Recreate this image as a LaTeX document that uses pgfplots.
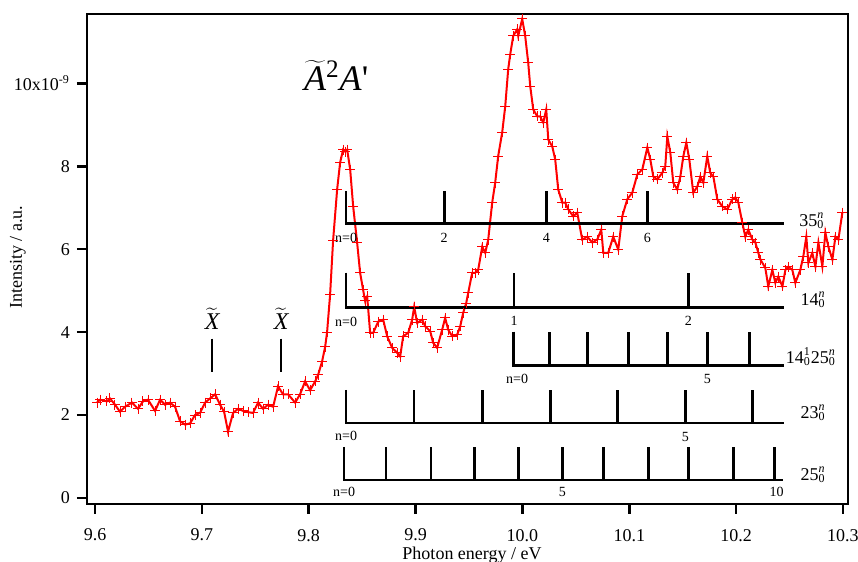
\documentclass[border=0pt]{standalone}
\usepackage{fontspec}
\setmainfont{Liberation Serif}
\usepackage{pgfplots}
\usepackage{pgfplotstable}
\pgfplotsset{compat=1.18}

% photoionisation spectrum, intensity in units of 1e-9
\pgfplotstableread{
x y
9.6019 2.30
9.6047 2.37
9.6112 2.33
9.6140 2.40
9.6187 2.25
9.6234 2.08
9.6281 2.20
9.6346 2.30
9.6403 2.15
9.6449 2.33
9.6496 2.37
9.6562 2.10
9.6609 2.37
9.6655 2.25
9.6702 2.30
9.6749 2.20
9.6796 1.85
9.6843 1.77
9.6890 1.80
9.6936 2.00
9.6983 2.05
9.7030 2.30
9.7077 2.40
9.7124 2.50
9.7170 2.25
9.7208 2.08
9.7245 1.60
9.7292 2.05
9.7339 2.15
9.7386 2.10
9.7433 2.07
9.7479 2.05
9.7526 2.30
9.7573 2.15
9.7620 2.25
9.7667 2.20
9.7713 2.69
9.7760 2.50
9.7807 2.50
9.7873 2.30
9.7919 2.50
9.7966 2.81
9.8013 2.60
9.8060 2.81
9.8088 2.97
9.8125 3.29
9.8154 3.65
9.8172 4.00
9.8200 4.90
9.8228 6.20
9.8266 7.44
9.8294 8.09
9.8322 8.40
9.8341 8.35
9.8360 8.40
9.8388 7.92
9.8416 7.03
9.8453 6.16
9.8481 5.43
9.8509 5.02
9.8528 4.75
9.8547 4.86
9.8575 3.98
9.8603 3.98
9.8650 4.25
9.8697 4.30
9.8734 3.90
9.8781 3.62
9.8828 3.50
9.8856 3.41
9.8884 3.90
9.8931 3.98
9.8968 4.30
9.8987 4.61
9.9015 4.22
9.9062 4.30
9.9090 4.14
9.9137 4.02
9.9165 3.74
9.9202 3.62
9.9249 4.06
9.9277 4.34
9.9305 4.06
9.9343 3.90
9.9390 3.94
9.9418 4.14
9.9446 4.47
9.9474 4.70
9.9493 4.95
9.9530 5.43
9.9558 5.43
9.9586 5.50
9.9624 6.06
9.9652 5.91
9.9680 6.23
9.9717 7.12
9.9745 7.60
9.9773 8.24
9.9811 8.82
9.9839 9.44
9.9867 10.34
9.9886 10.70
9.9914 11.14
9.9951 11.30
9.9961 11.14
9.9998 11.55
10.0026 11.14
10.0054 10.50
10.0073 9.93
10.0101 9.37
10.0139 9.20
10.0167 9.20
10.0195 9.05
10.0223 9.37
10.0242 8.64
10.0279 8.48
10.0307 8.16
10.0335 7.44
10.0373 7.12
10.0401 7.12
10.0429 6.96
10.0476 6.79
10.0513 6.88
10.0560 6.23
10.0607 6.30
10.0654 6.16
10.0700 6.23
10.0738 6.47
10.0757 5.91
10.0803 5.91
10.0850 6.30
10.0897 5.99
10.0934 6.79
10.0981 7.20
10.1028 7.36
10.1075 7.80
10.1122 7.92
10.1169 8.45
10.1197 8.16
10.1225 7.75
10.1262 7.68
10.1309 7.84
10.1337 8.00
10.1356 8.72
10.1384 8.33
10.1412 7.60
10.1449 7.44
10.1478 7.75
10.1506 8.24
10.1534 8.57
10.1562 8.16
10.1599 7.36
10.1637 7.51
10.1665 7.75
10.1693 7.60
10.1730 8.24
10.1758 7.84
10.1787 7.75
10.1824 7.20
10.1871 7.03
10.1918 6.96
10.1964 7.20
10.1993 7.25
10.2021 7.12
10.2058 6.64
10.2086 6.30
10.2114 6.47
10.2152 6.23
10.2180 6.16
10.2208 5.91
10.2227 5.75
10.2273 5.55
10.2301 5.10
10.2339 5.50
10.2367 5.19
10.2395 5.34
10.2433 5.10
10.2461 5.50
10.2489 5.58
10.2526 5.50
10.2554 5.19
10.2601 5.50
10.2629 5.83
10.2657 6.30
10.2676 5.67
10.2713 5.91
10.2742 5.58
10.2770 6.16
10.2807 5.58
10.2835 6.40
10.2863 6.06
10.2901 5.75
10.2929 6.30
10.2957 6.23
10.2994 6.88
}\spectrum

\begin{document}
\begin{tikzpicture}
\path[use as bounding box] (0,0) rectangle (429pt,281pt);
\begin{axis}[
  at={(43.5pt,29pt)}, anchor=south west,
  scale only axis, width=380.5pt, height=245pt,
  xmin=9.5925, xmax=10.3047, ymin=-0.145, ymax=11.67,
  clip=false,
  axis line style={line width=1.3pt},
  tick style={line width=1.3pt, black},
  tick align=outside, major tick length=5pt,
  xtick pos=left, ytick pos=left,
  xtick={9.6,9.7,9.8,9.9,10.0,10.1,10.2,10.3},
  xticklabels={9.6,9.7,9.8,9.9,10.0,10.1,10.2,10.3},
  ytick={0,2,4,6,8,10},
  yticklabels={0,2,4,6,8,{10x10\textsuperscript{-9}}},
  ticklabel style={font=\fontsize{9}{10}\selectfont},
  xticklabel style={yshift=-4pt},
  xlabel={Photon energy / eV},
  ylabel={Intensity / a.u.},
  label style={font=\fontsize{9}{10}\selectfont},
  xlabel style={at={(axis description cs:0.506,-0.104)}, anchor=center},
  ylabel style={at={(axis description cs:-0.0907,0.504)}, anchor=center},
  unbounded coords=jump,
]
\addplot[red, line width=1pt, mark=+, mark size=2.5pt,
  mark options={line width=0.5pt}] table[x=x, y=y] {\spectrum};

% vibrational progressions (combs)
\addplot[black, line width=1.3pt] coordinates {
  (9.8350,7.391) (9.8350,6.618) (10.2451,6.618) (9.9268,nan)
  (9.9268,6.618) (9.9268,7.391) (10.0223,nan)
  (10.0223,6.618) (10.0223,7.391) (10.1169,nan)
  (10.1169,6.618) (10.1169,7.391)};
\addplot[black, line width=1.3pt] coordinates {
  (9.8350,5.435) (9.8350,4.589) (10.2451,4.589) (9.9923,nan)
  (9.9923,4.589) (9.9923,5.435) (10.1552,nan)
  (10.1552,4.589) (10.1552,5.435)};
\addplot[black, line width=1.3pt] coordinates {
  (9.9914,4.010) (9.9914,3.188) (10.2451,3.188) (10.0251,nan)
  (10.0251,3.188) (10.0251,4.010) (10.0607,nan)
  (10.0607,3.188) (10.0607,4.010) (10.0991,nan)
  (10.0991,3.188) (10.0991,4.010) (10.1356,nan)
  (10.1356,3.188) (10.1356,4.010) (10.1730,nan)
  (10.1730,3.188) (10.1730,4.010) (10.2124,nan)
  (10.2124,3.188) (10.2124,4.010)};
\addplot[black, line width=1.3pt] coordinates {
  (9.8350,2.609) (9.8350,1.812) (10.2451,1.812) (9.8987,nan)
  (9.8987,1.812) (9.8987,2.609) (9.9624,nan)
  (9.9624,1.812) (9.9624,2.609) (10.0260,nan)
  (10.0260,1.812) (10.0260,2.609) (10.0888,nan)
  (10.0888,1.812) (10.0888,2.609) (10.1524,nan)
  (10.1524,1.812) (10.1524,2.609) (10.2152,nan)
  (10.2152,1.812) (10.2152,2.609)};
\addplot[black, line width=1.3pt] coordinates {
  (9.8331,1.232) (9.8331,0.435) (10.2442,0.435) (9.8725,nan)
  (9.8725,0.435) (9.8725,1.232) (9.9146,nan)
  (9.9146,0.435) (9.9146,1.232) (9.9549,nan)
  (9.9549,0.435) (9.9549,1.232) (9.9961,nan)
  (9.9961,0.435) (9.9961,1.232) (10.0373,nan)
  (10.0373,0.435) (10.0373,1.232) (10.0757,nan)
  (10.0757,0.435) (10.0757,1.232) (10.1178,nan)
  (10.1178,0.435) (10.1178,1.232) (10.1552,nan)
  (10.1552,0.435) (10.1552,1.232) (10.1974,nan)
  (10.1974,0.435) (10.1974,1.232) (10.2358,nan)
  (10.2358,0.435) (10.2358,1.232)};
% X-state markers
\addplot[black, line width=1.3pt] coordinates {
  (9.7096,3.84) (9.7096,3.04) (9.7742,nan) (9.7742,3.84) (9.7742,3.04)};

% labels
\node[anchor=base west, font=\fontsize{18}{20}\selectfont] at (axis cs:9.7891,9.83)
  {$\widetilde{\hbox{\itshape A}}$\textsuperscript{2}\textit{A}\textquotesingle};
\node[anchor=base, font=\fontsize{12}{14}\selectfont] at (axis cs:9.7096,4.06)
  {$\widetilde{\hbox{\itshape X}}$};
\node[anchor=base, font=\fontsize{12}{14}\selectfont] at (axis cs:9.7742,4.06)
  {$\widetilde{\hbox{\itshape X}}$};

\begin{scope}[every node/.style={font=\fontsize{7}{8}\selectfont}]
\node at (axis cs:9.8350,6.26) {n=0};
\node at (axis cs:9.9268,6.28) {2};
\node at (axis cs:10.0223,6.28) {4};
\node at (axis cs:10.1169,6.28) {6};
\node at (axis cs:9.8350,4.25) {n=0};
\node at (axis cs:9.9923,4.28) {1};
\node at (axis cs:10.1552,4.28) {2};
\node at (axis cs:9.9950,2.87) {n=0};
\node at (axis cs:10.1730,2.87) {5};
\node at (axis cs:9.8350,1.50) {n=0};
\node at (axis cs:10.1524,1.47) {5};
\node at (axis cs:9.8331,0.15) {n=0};
\node at (axis cs:10.0373,0.15) {5};
\node at (axis cs:10.2380,0.15) {10};
\end{scope}

\begin{scope}[every node/.style={font=\fontsize{9}{10}\selectfont}]
\node at (axis cs:10.2710,6.69) {35\rlap{\textsuperscript{\textit{n}}}\textsubscript{0}};
\node at (axis cs:10.2720,4.78) {14\rlap{\textsuperscript{\textit{n}}}\textsubscript{0}};
\node at (axis cs:10.2700,3.41) {14\rlap{\textsuperscript{1}}\textsubscript{0}25\rlap{\textsuperscript{\textit{n}}}\textsubscript{0}};
\node at (axis cs:10.2720,2.05) {23\rlap{\textsuperscript{\textit{n}}}\textsubscript{0}};
\node at (axis cs:10.2720,0.56) {25\rlap{\textsuperscript{\textit{n}}}\textsubscript{0}};
\end{scope}
\end{axis}
\end{tikzpicture}
\end{document}
